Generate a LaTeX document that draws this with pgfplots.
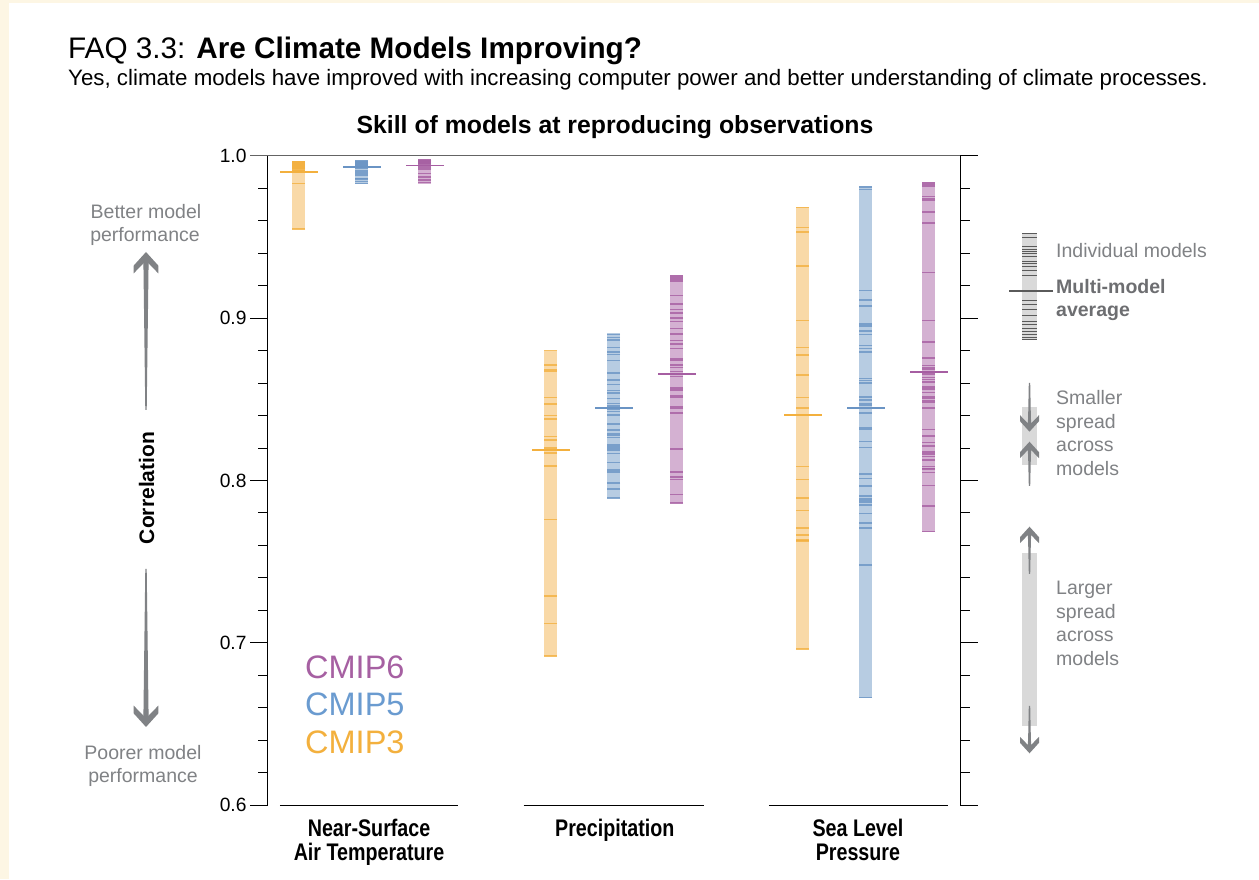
\documentclass[border=0pt]{standalone}
\usepackage{fontspec}
\setmainfont{Liberation Sans}
\newfontfamily\condfont{Liberation Sans}[FakeStretch=0.82]
\usepackage{pgfplots}
\pgfplotsset{compat=1.18}
\definecolor{cream}{RGB}{253,246,228}
\definecolor{c3fill}{RGB}{249,217,167}
\definecolor{c3line}{RGB}{243,176,62}
\definecolor{c5fill}{RGB}{183,204,226}
\definecolor{c5line}{RGB}{106,148,196}
\definecolor{c6fill}{RGB}{212,177,210}
\definecolor{c6line}{RGB}{166,94,162}
\definecolor{t6}{RGB}{166,96,162}
\definecolor{t5}{RGB}{106,155,208}
\definecolor{t3}{RGB}{243,176,61}
\definecolor{textgray}{RGB}{128,130,133}
\definecolor{dgray}{RGB}{109,110,113}
\definecolor{lgray}{RGB}{217,217,217}
\definecolor{arrowgray}{RGB}{128,130,133}
\definecolor{axgray}{RGB}{100,100,100}
\definecolor{keyline}{RGB}{90,90,90}
\newcommand\fs[1]{\fontsize{#1}{#1}\selectfont}
\newcommand{\arrhead}[4]{\fill[arrowgray, shift={(#1,#2)}, scale=#3, yscale=#4] (0,0) -- (9.5,10.5) -- (9.5,16.5) -- (1.6,8.3) -- (1.6,12) -- (-1.6,12) -- (-1.6,8.3) -- (-9.5,16.5) -- (-9.5,10.5) -- cycle;}
\pgfplotsset{
  ind/.style={only marks, mark=-, mark size=6.5pt, mark options={draw=#1, line width=1.6pt, opacity=0.8}},
  avg/.style={only marks, mark=-, mark size=19pt, mark options={draw=#1, line width=1.8pt}},
}
\begin{document}
\begin{tikzpicture}
\fill[cream] (0,0) rectangle (1259pt,879pt);
\fill[white] (9pt,0) rectangle (1259pt,876pt);
\begin{axis}[
  at={(267.7pt,73.7pt)}, anchor=south west, scale only axis,
  width=692.3pt, height=649.6pt,
  xmin=-0.489, xmax=10.5, ymin=0.6, ymax=1.0,
  axis line style={draw=none}, clip=false,
  ytick={0.6,0.7,0.8,0.9,1.0}, minor y tick num=4,
  tick align=outside, ytick pos=both, yticklabel pos=left,
  major tick length=17.7pt, minor tick length=9.7pt,
  y tick style={black, line width=1pt},
  yticklabel style={font=\fs{19.2}, /pgf/number format/.cd, fixed, fixed zerofill, precision=1},
  /pgf/number format/assume math mode=true,
  xtick={1.12,5.02,8.88}, xtick pos=bottom, x tick style={draw=none},
  xticklabels={{Near-Surface\\Air Temperature},{Precipitation},{Sea Level\\Pressure}},
  xticklabel style={font=\condfont\bfseries\fontsize{24}{24}\selectfont, align=center, anchor=north, yshift=7pt},
]
% frame pieces
\draw[black, line width=1pt] (axis cs:-0.489,0.6) -- (axis cs:-0.489,1.0);
\draw[black, line width=1pt] (axis cs:10.5,0.6) -- (axis cs:10.5,1.0);
\draw[axgray, line width=1.6pt] ([xshift=-17.7pt]axis cs:-0.489,1.0) -- (axis cs:10.5,1.0);
\draw[black, line width=1.2pt] (axis cs:-0.294,0.6) -- (axis cs:2.524,0.6);
\draw[black, line width=1.2pt] (axis cs:3.573,0.6) -- (axis cs:6.437,0.6);
\draw[black, line width=1.2pt] (axis cs:7.468,0.6) -- (axis cs:10.305,0.6);

% ===== Near-surface air temperature =====
\addplot[fill=c3fill, draw=none, mark=none] coordinates {(-0.103,0.955) (0.103,0.955) (0.103,0.997) (-0.103,0.997)} -- cycle;
\addplot[ind=c3line] coordinates {(0,0.9965) (0,0.996) (0,0.9955) (0,0.995) (0,0.9945) (0,0.994) (0,0.9935) (0,0.993) (0,0.9925) (0,0.992) (0,0.9915) (0,0.991) (0,0.9905) (0,0.990) (0,0.983) (0,0.955)};
\addplot[avg=c3line] coordinates {(0,0.990)};
\addplot[fill=c5fill, draw=none, mark=none] coordinates {(0.897,0.9824) (1.103,0.9824) (1.103,0.9974) (0.897,0.9974)} -- cycle;
\addplot[ind=c5line] coordinates {(1,0.997) (1,0.9965) (1,0.996) (1,0.9955) (1,0.995) (1,0.9945) (1,0.994) (1,0.9935) (1,0.993) (1,0.992) (1,0.991) (1,0.990) (1,0.989) (1,0.988) (1,0.986) (1,0.9855) (1,0.984) (1,0.983)};
\addplot[avg=c5line] coordinates {(1,0.993)};
\addplot[fill=c6fill, draw=none, mark=none] coordinates {(1.897,0.9828) (2.103,0.9828) (2.103,0.9978) (1.897,0.9978)} -- cycle;
\addplot[ind=c6line] coordinates {(2,0.9975) (2,0.997) (2,0.9965) (2,0.996) (2,0.9955) (2,0.995) (2,0.994) (2,0.993) (2,0.992) (2,0.9915) (2,0.989) (2,0.987) (2,0.985) (2,0.9835)};
\addplot[avg=c6line] coordinates {(2,0.994)};

% ===== Precipitation =====
\addplot[fill=c3fill, draw=none, mark=none] coordinates {(3.897,0.692) (4.103,0.692) (4.103,0.880) (3.897,0.880)} -- cycle;
\addplot[ind=c3line] coordinates {(4,0.880) (4,0.871) (4,0.868) (4,0.867) (4,0.851) (4,0.847) (4,0.840) (4,0.838) (4,0.827) (4,0.825) (4,0.820) (4,0.817) (4,0.809) (4,0.776) (4,0.729) (4,0.712) (4,0.692)};
\addplot[avg=c3line] coordinates {(4,0.819)};
\addplot[fill=c5fill, draw=none, mark=none] coordinates {(4.897,0.789) (5.103,0.789) (5.103,0.891) (4.897,0.891)} -- cycle;
\addplot[ind=c5line] coordinates {(5,0.890) (5,0.888) (5,0.8865) (5,0.8818) (5,0.8791) (5,0.8777) (5,0.8738) (5,0.8665) (5,0.866) (5,0.8619) (5,0.8592) (5,0.8553) (5,0.8537) (5,0.8506) (5,0.8475) (5,0.846) (5,0.844) (5,0.8424) (5,0.8403) (5,0.8352) (5,0.8346) (5,0.8311) (5,0.829) (5,0.828) (5,0.8264) (5,0.8219) (5,0.8208) (5,0.8198) (5,0.8188) (5,0.8167) (5,0.811) (5,0.8065) (5,0.8054) (5,0.7983) (5,0.7946) (5,0.7892)};
\addplot[avg=c5line] coordinates {(5,0.8448)};
\addplot[fill=c6fill, draw=none, mark=none] coordinates {(5.897,0.786) (6.103,0.786) (6.103,0.9265) (5.897,0.9265)} -- cycle;
\addplot[ind=c6line] coordinates {(6,0.926) (6,0.925) (6,0.924) (6,0.923) (6,0.9138) (6,0.9085) (6,0.9054) (6,0.903) (6,0.900) (6,0.898) (6,0.8935) (6,0.8902) (6,0.8861) (6,0.8839) (6,0.8814) (6,0.8752) (6,0.8742) (6,0.8711) (6,0.8697) (6,0.867) (6,0.864) (6,0.8568) (6,0.8557) (6,0.8522) (6,0.851) (6,0.8455) (6,0.8445) (6,0.8414) (6,0.8194) (6,0.8054) (6,0.802) (6,0.8007) (6,0.7915) (6,0.786)};
\addplot[avg=c6line] coordinates {(6,0.8658)};

% ===== Sea level pressure =====
\addplot[fill=c3fill, draw=none, mark=none] coordinates {(7.897,0.696) (8.103,0.696) (8.103,0.9686) (7.897,0.9686)} -- cycle;
\addplot[ind=c3line] coordinates {(8,0.9682) (8,0.9559) (8,0.953) (8,0.9319) (8,0.8984) (8,0.882) (8,0.8771) (8,0.8648) (8,0.8512) (8,0.8448) (8,0.8087) (8,0.8005) (8,0.7894) (8,0.7816) (8,0.7707) (8,0.7666) (8,0.7635) (8,0.7628) (8,0.6963)};
\addplot[avg=c3line] coordinates {(8,0.8405)};
\addplot[fill=c5fill, draw=none, mark=none] coordinates {(8.897,0.666) (9.103,0.666) (9.103,0.9815) (8.897,0.9815)} -- cycle;
\addplot[ind=c5line] coordinates {(9,0.9809) (9,0.9793) (9,0.9171) (9,0.9111) (9,0.9074) (9,0.8964) (9,0.8951) (9,0.8922) (9,0.8898) (9,0.8832) (9,0.8814) (9,0.8793) (9,0.8627) (9,0.8615) (9,0.8602) (9,0.8516) (9,0.8496) (9,0.8475) (9,0.8465) (9,0.8416) (9,0.8325) (9,0.8313) (9,0.8239) (9,0.8204) (9,0.804) (9,0.8013) (9,0.7966) (9,0.7904) (9,0.789) (9,0.788) (9,0.7866) (9,0.785) (9,0.7798) (9,0.7737) (9,0.7706) (9,0.7478) (9,0.6665)};
\addplot[avg=c5line] coordinates {(9,0.8445)};
\addplot[fill=c6fill, draw=none, mark=none] coordinates {(9.897,0.768) (10.103,0.768) (10.103,0.984) (9.897,0.984)} -- cycle;
\addplot[ind=c6line] coordinates {(10,0.9836) (10,0.9826) (10,0.9815) (10,0.9748) (10,0.9733) (10,0.9723) (10,0.9653) (10,0.9584) (10,0.9282) (10,0.8984) (10,0.8851) (10,0.8756) (10,0.8707) (10,0.8697) (10,0.8687) (10,0.8656) (10,0.8635) (10,0.8623) (10,0.8608) (10,0.8576) (10,0.8562) (10,0.8543) (10,0.8516) (10,0.8504) (10,0.8491) (10,0.8481) (10,0.8448) (10,0.8315) (10,0.8274) (10,0.8233) (10,0.8214) (10,0.8177) (10,0.8163) (10,0.8147) (10,0.8128) (10,0.8085) (10,0.8075) (10,0.807) (10,0.805) (10,0.7968) (10,0.7843) (10,0.7685)};
\addplot[avg=c6line] coordinates {(10,0.8666)};

% ===== legend key (right) =====
\addplot[fill=lgray, draw=none, mark=none] coordinates {(11.484,0.8865) (11.722,0.8865) (11.722,0.9524) (11.484,0.9524)} -- cycle;
\addplot[only marks, mark=-, mark size=7.5pt, mark options={draw=keyline, line width=1pt}] coordinates {(11.603,0.9518) (11.603,0.9498) (11.603,0.9440) (11.603,0.9424) (11.603,0.9409) (11.603,0.9399) (11.603,0.9382) (11.603,0.9347) (11.603,0.9337) (11.603,0.9317) (11.603,0.9292) (11.603,0.9265) (11.603,0.9111) (11.603,0.9081) (11.603,0.9050) (11.603,0.9019) (11.603,0.8978) (11.603,0.8958) (11.603,0.8937) (11.603,0.8916) (11.603,0.8896) (11.603,0.8882) (11.603,0.8869)};
\addplot[only marks, mark=-, mark size=22pt, mark options={draw=keyline, line width=1.2pt}] coordinates {(11.627,0.9167)};
\end{axis}

\begin{scope}[yshift=879pt, x=1pt, y=-1pt]
\node[anchor=base west, inner sep=0] at (68,59) {\fs{29.7}FAQ 3.3: \textbf{Are Climate Models Improving?}};
\node[anchor=base west, inner sep=0] at (68,86) {\fs{22.3}Yes, climate models have improved with increasing computer power and better understanding of climate processes.};
\node[anchor=base, inner sep=0] at (615,134) {\fs{24.8}\bfseries Skill of models at reproducing observations};
% CMIP legend
\node[anchor=base west, inner sep=0, text=t6] at (305,679) {\fs{32.5}CMIP6};
\node[anchor=base west, inner sep=0, text=t5] at (305,716) {\fs{32.5}CMIP5};
\node[anchor=base west, inner sep=0, text=t3] at (305,753) {\fs{32.5}CMIP3};
% left annotations
\node[anchor=base, inner sep=0, text=textgray] at (146,218.5) {\fs{19.5}Better model};
\node[anchor=base, inner sep=0, text=textgray] at (145,242) {\fs{19.5}performance};
\node[anchor=base, inner sep=0, text=textgray] at (143,759) {\fs{19.5}Poorer model};
\node[anchor=base, inner sep=0, text=textgray] at (143,782) {\fs{19.5}performance};
\node[rotate=90, inner sep=0] at (146.5,488) {\fs{21}\bfseries Correlation};
\arrhead{146}{252}{1.3}{1}
\fill[arrowgray] (143.4,262) -- (148.6,262) -- (146.7,410) -- (145.3,410) -- cycle;
\arrhead{146}{727}{1.3}{-1}
\fill[arrowgray] (143.4,717) -- (148.6,717) -- (146.7,569) -- (145.3,569) -- cycle;
% right annotations
\node[anchor=base west, inner sep=0, text=textgray] at (1056,258) {\fs{19.5}Individual models};
\node[anchor=base west, inner sep=0, text=dgray] at (1056,293.5) {\fs{19.5}\bfseries Multi-model};
\node[anchor=base west, inner sep=0, text=dgray] at (1056,317) {\fs{19.5}\bfseries average};
\fill[lgray] (1022,406.7) rectangle (1037,465);
\fill[arrowgray] (1028.8,383) -- (1030.2,383) -- (1031,424) -- (1028,424) -- cycle;
\arrhead{1029.5}{431.7}{1}{-1}
\fill[arrowgray] (1028,450) -- (1031,450) -- (1030.2,486) -- (1028.8,486) -- cycle;
\arrhead{1029.5}{441.7}{1}{1}
\node[anchor=base west, inner sep=0, text=textgray] at (1056,405) {\fs{19.5}Smaller};
\node[anchor=base west, inner sep=0, text=textgray] at (1056,428.4) {\fs{19.5}spread};
\node[anchor=base west, inner sep=0, text=textgray] at (1056,451.8) {\fs{19.5}across};
\node[anchor=base west, inner sep=0, text=textgray] at (1056,475.2) {\fs{19.5}models};
\fill[lgray] (1022,553) rectangle (1037,725.7);
\arrhead{1029.5}{526.7}{1}{1}
\fill[arrowgray] (1028,535) -- (1031,535) -- (1030.2,574) -- (1028.8,574) -- cycle;
\arrhead{1029.5}{753.3}{1}{-1}
\fill[arrowgray] (1028,745) -- (1031,745) -- (1030.2,706) -- (1028.8,706) -- cycle;
\node[anchor=base west, inner sep=0, text=textgray] at (1056,595) {\fs{19.5}Larger};
\node[anchor=base west, inner sep=0, text=textgray] at (1056,618.4) {\fs{19.5}spread};
\node[anchor=base west, inner sep=0, text=textgray] at (1056,641.8) {\fs{19.5}across};
\node[anchor=base west, inner sep=0, text=textgray] at (1056,665.2) {\fs{19.5}models};
\end{scope}
\pgfresetboundingbox
\useasboundingbox (0,0) rectangle (1259pt,879pt);
\end{tikzpicture}
\end{document}
